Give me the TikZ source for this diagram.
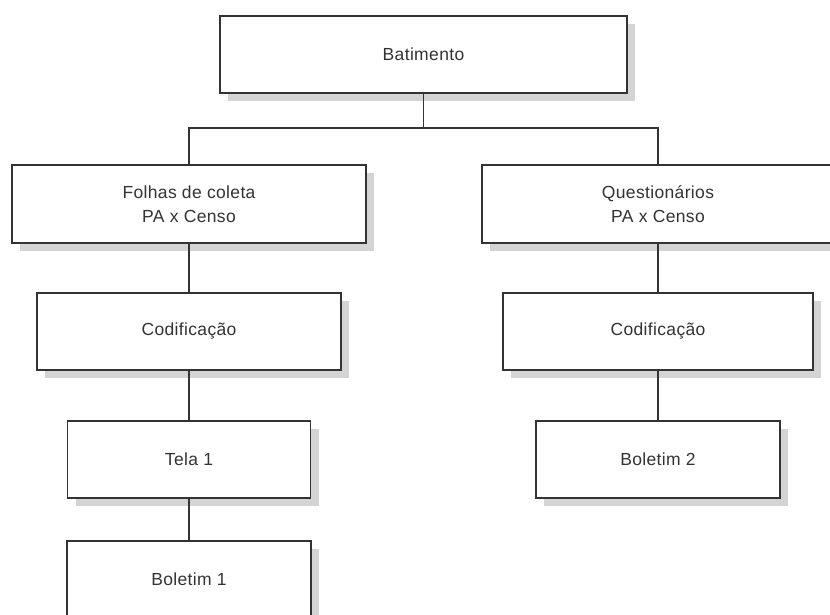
\documentclass[tikz,border=0pt]{standalone}
\usepackage{fontspec}
\setmainfont{Liberation Sans}[LetterSpace=2]
\usetikzlibrary{shadows}
\definecolor{ink}{HTML}{333333}
\definecolor{shade}{HTML}{D4D4D4}
\begin{document}
\begin{tikzpicture}[x=1pt,y=-1pt,
  stepbox/.style={draw=ink, line width=1.5pt, fill=white, inner sep=0pt,
    text=ink, align=center, font=\fontsize{17.5}{24}\selectfont,
    general shadow={fill=shade, shadow xshift=8pt, shadow yshift=-8pt}},
  link/.style={draw=ink, line width=1.3pt}]
\useasboundingbox (0,0) rectangle (830,615);
% top level
\node[stepbox, minimum width=407pt, minimum height=77pt] (bat) at (423.5,54.5) {Batimento};
% second level
\node[stepbox, minimum width=354pt, minimum height=78pt] (folhas) at (189,204) {Folhas de coleta\\PA x Censo};
\node[stepbox, minimum width=352pt, minimum height=78pt] (quest) at (658,204) {Questionários\\PA x Censo};
% coding
\node[stepbox, minimum width=304pt, minimum height=77pt] (cod1) at (189,331.5) {Codificação};
\node[stepbox, minimum width=310pt, minimum height=77pt] (cod2) at (658,331.5) {Codificação};
% screens and bulletins
\node[stepbox, minimum width=243pt, minimum height=77pt] (tela) at (189,459.5) {Tela 1};
\node[stepbox, minimum width=244pt, minimum height=77pt] (bol2) at (658,459.5) {Boletim 2};
\node[stepbox, minimum width=244pt, minimum height=77pt] (bol1) at (189,579.5) {Boletim 1};
% connectors
\coordinate (split) at (423.5,128);
\draw[link] (bat.south) -- (split);
\draw[link] (folhas.north) |- (split) -| (quest.north);
\draw[link] (folhas.south) -- (cod1.north);
\draw[link] (cod1.south) -- (tela.north);
\draw[link] (tela.south) -- (bol1.north);
\draw[link] (quest.south) -- (cod2.north);
\draw[link] (cod2.south) -- (bol2.north);
\end{tikzpicture}
\end{document}
